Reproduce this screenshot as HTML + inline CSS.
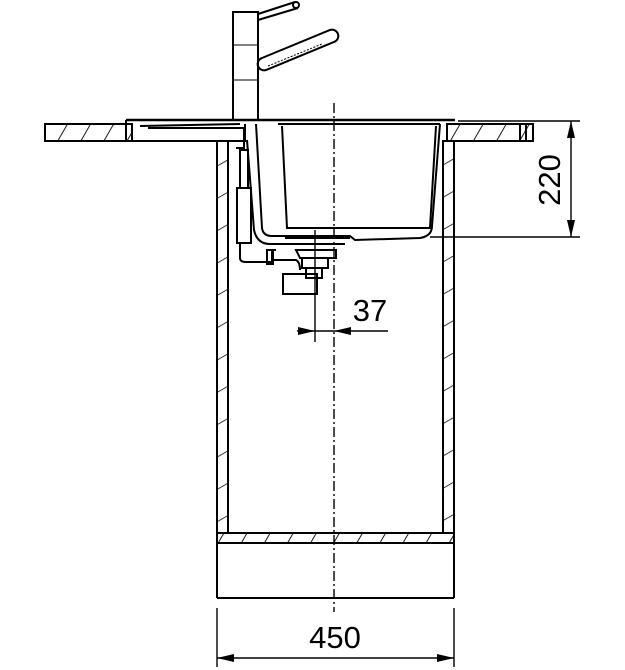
<!DOCTYPE html>
<html><head><style>html,body{margin:0;padding:0;background:#fff}svg{display:block}</style></head>
<body>
<svg width="625" height="670" viewBox="0 0 625 670" xmlns="http://www.w3.org/2000/svg">
<defs>
<pattern id="h" patternUnits="userSpaceOnUse" width="20" height="20" patternTransform="rotate(30)">
<line x1="0" y1="0" x2="0" y2="20" stroke="#000" stroke-width="1.8"/>
</pattern>
<pattern id="hv" patternUnits="userSpaceOnUse" width="28" height="28" patternTransform="rotate(-30)">
<line x1="0" y1="0" x2="28" y2="0" stroke="#000" stroke-width="1.6"/>
</pattern>
</defs>
<g fill="none" stroke="#000" stroke-width="2">
<rect x="45" y="124" width="87" height="17" fill="url(#h)"/>
<rect x="447" y="124" width="86" height="17" fill="url(#h)"/>
<line x1="520" y1="124" x2="520" y2="141"/><line x1="526" y1="124" x2="526" y2="141"/>
<line x1="126" y1="120" x2="455" y2="120" stroke-width="2.4"/>
<path d="M126 120 V141 H245 V124"/>
<path d="M148 128 H244 V148 H236"/>
<path d="M140 126 L240 124"/>
<rect x="217" y="141" width="11" height="392" fill="url(#hv)"/>
<rect x="443" y="141" width="11" height="392" fill="url(#hv)"/>
<rect x="217" y="533" width="237" height="10" fill="url(#h)"/>
<line x1="217" y1="141" x2="217" y2="598"/><line x1="454" y1="141" x2="454" y2="598"/>
<line x1="217" y1="598" x2="454" y2="598"/>
<line x1="217" y1="543" x2="454" y2="543"/>
<rect x="233" y="12" width="25" height="108"/>
<line x1="233" y1="45" x2="258" y2="45" stroke-width="1"/>
<line x1="233" y1="80" x2="258" y2="80" stroke-width="1"/>
<path d="M258 14 L295 2 M258 20 L298 8"/>
<circle cx="296" cy="5" r="3"/>
<path d="M262 58 L330 30 A6 6 0 0 1 334 42 L266 70 A6 6 0 0 1 262 58 Z"/>
<path d="M268 66 L322 44" stroke-dasharray="2 1.5" stroke-width="1"/>
<path d="M256 124 L262 228 Q263 236 272 236 L350 236 L355 240 L420 238 Q432 236 432 226 L440 124"/>
<path d="M282 126 L287 228 L430 228 L436 126"/>
<line x1="278" y1="124" x2="440" y2="124"/>
<path d="M247 140 L254 230 Q257 244 270 244 L290 244"/>
<path d="M285 238 H350 M290 244 H345 M296 250 H336 L336 258 H300 Z"/>
<path d="M302 258 V268 H328 V258"/>
<path d="M306 268 V278 H322 V268"/>
<rect x="283" y="274" width="34" height="20"/>
<path d="M300 270 Q300 262 296 260 H272 V250 H276"/>
<rect x="237" y="188" width="14" height="55"/>
<rect x="240" y="150" width="8" height="38"/>
<path d="M240 243 V258 Q240 262 246 262 H272 V252"/>
<rect x="267" y="250" width="6" height="14"/>
<line x1="334" y1="103" x2="334" y2="612" stroke-width="1.4" stroke-dasharray="10 3 2 3"/>
<line x1="458" y1="121" x2="580" y2="121" stroke-width="1.4"/>
<line x1="430" y1="237" x2="580" y2="237" stroke-width="1.4"/>
<line x1="571" y1="121" x2="571" y2="237" stroke-width="1.4"/>
<line x1="315" y1="230" x2="315" y2="342" stroke-width="1.4"/>
<line x1="297" y1="331" x2="388" y2="331" stroke-width="1.4"/>
<line x1="217" y1="608" x2="217" y2="667" stroke-width="1.4"/>
<line x1="454" y1="608" x2="454" y2="667" stroke-width="1.4"/>
<line x1="217" y1="658" x2="454" y2="658" stroke-width="1.4"/>
</g>
<g fill="#000">
<polygon points="571,121 567,138 575,138"/>
<polygon points="571,237 567,220 575,220"/>
<polygon points="315,331 298,327 298,335"/>
<polygon points="334,331 351,327 351,335"/>
<polygon points="217,658 234,654 234,662"/>
<polygon points="454,658 437,654 437,662"/>
</g>
<g font-family="Liberation Sans, sans-serif" font-size="31" fill="#000">
<text x="335" y="648" text-anchor="middle">450</text>
<text x="370" y="321" text-anchor="middle">37</text>
<text transform="translate(560,180) rotate(-90)" text-anchor="middle">220</text>
</g>
</svg>
</body></html>
